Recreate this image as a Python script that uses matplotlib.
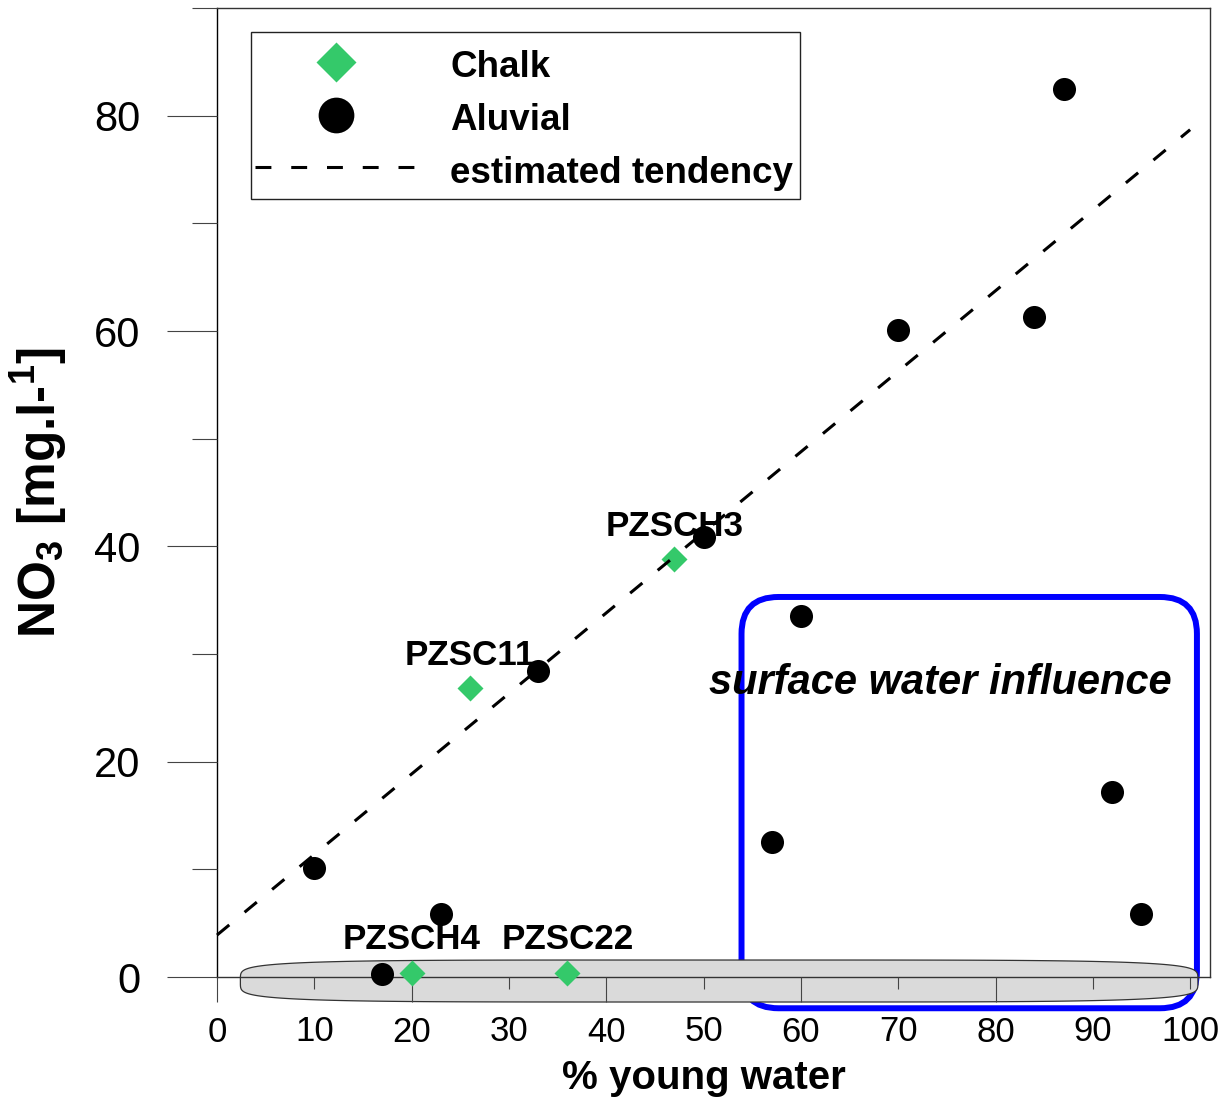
import numpy as np
import matplotlib
matplotlib.use("Agg")
import matplotlib.pyplot as plt
from matplotlib.patches import FancyBboxPatch, Polygon, Rectangle
from matplotlib.ticker import FixedLocator, FixedFormatter

plt.rcParams['font.family'] = ['Liberation Sans', 'DejaVu Sans']
plt.rcParams['mathtext.fontset'] = 'custom'
plt.rcParams['mathtext.rm'] = 'Liberation Sans:bold'
plt.rcParams['mathtext.it'] = 'Liberation Sans:bold'
plt.rcParams['mathtext.bf'] = 'Liberation Sans:bold'

# --- data ---
chalk_x = [20, 36, 26, 47]
chalk_y = [0.4, 0.4, 26.8, 38.8]
chalk_names = ['PZSCH4', 'PZSC22', 'PZSC11', 'PZSCH3']

aluvial_x = [10, 17, 23, 33, 50, 57, 60, 70, 84, 87, 92, 95]
aluvial_y = [10.1, 0.3, 5.9, 28.4, 40.9, 12.5, 33.5, 60.1, 61.3, 82.5, 17.2, 5.9]

trend_x = [0, 100]
trend_y = [3.9, 78.7]

x_major = [0, 20, 40, 60, 80]
x_minor = [10, 30, 50, 70, 90, 100]
y_major = [0, 20, 40, 60, 80]
y_minor = [10, 30, 50, 70, 90]

GREEN = '#34C96A'
TICK_C = '#444444'

fig = plt.figure(figsize=(12.31, 11.02), dpi=100)
ax = fig.add_axes([0.1763, 0.1134, 0.8063, 0.8793])
ax.set_xlim(0, 102)
ax.set_ylim(0, 90)
ax.set_axisbelow(False)

# shaded band along the zero line
cx, cy, a, b, n = 51.6, -0.37, 49.2, 1.95, 5
t = np.linspace(0, 2 * np.pi, 400)
ex = cx + a * np.sign(np.cos(t)) * np.abs(np.cos(t)) ** (2 / n)
ey = cy + b * np.sign(np.sin(t)) * np.abs(np.sin(t)) ** (2 / n)
band = Polygon(np.column_stack([ex, ey]), closed=True, facecolor='#DADADA',
               edgecolor='#333333', lw=0.9, zorder=2.0, clip_on=False)

# blue rounded box: surface water influence
box = FancyBboxPatch((53.9, -2.9), 46.8, 38.2,
                     boxstyle='round,pad=0,rounding_size=3.8',
                     mutation_aspect=0.9, facecolor='none', edgecolor='#0000FF',
                     lw=4.3, zorder=1.8, clip_on=False)
ax.add_patch(box)
ax.add_patch(band)

ax.text(74.3, 27.3, 'surface water influence', fontsize=30, fontweight='bold',
        fontstyle='italic', ha='center', va='center', zorder=4)

ax.plot(trend_x, trend_y, color='black', lw=2.2, ls=(0, (5.2, 6.5)),
        zorder=5, label='estimated tendency', clip_on=False)
ax.plot(chalk_x, chalk_y, 'D', color=GREEN, ms=13.2, mec='none',
        ls='none', zorder=3, label='Chalk', clip_on=False)
ax.plot(aluvial_x, aluvial_y, 'o', color='black', ms=16.6, mec='none',
        ls='none', zorder=3.5, label='Aluvial', clip_on=False)

for x, y, name in zip(chalk_x, chalk_y, chalk_names):
    ax.annotate(name, (x, y), xytext=(0, 17), textcoords='offset points',
                ha='center', va='baseline', fontsize=25.2, fontweight='bold',
                zorder=2.5, annotation_clip=False)

# axes frame
for side in ['top', 'right', 'left', 'bottom']:
    ax.spines[side].set_linewidth(1.0)
    ax.spines[side].set_color('#333333')
ax.spines['left'].set_color('black')

ax.xaxis.set_major_locator(FixedLocator(x_major))
ax.xaxis.set_minor_locator(FixedLocator(x_minor))
ax.xaxis.set_major_formatter(FixedFormatter([str(v) for v in x_major]))
ax.xaxis.set_minor_formatter(FixedFormatter([str(v) for v in x_minor]))
ax.yaxis.set_major_locator(FixedLocator(y_major))
ax.yaxis.set_minor_locator(FixedLocator(y_minor))
ax.yaxis.set_major_formatter(FixedFormatter([str(v) for v in y_major]))

ax.tick_params(axis='x', which='major', direction='out', length=18, width=0.8,
               color=TICK_C, pad=10, labelsize=25)
ax.tick_params(axis='x', which='minor', direction='out', length=8.6, width=0.8,
               color=TICK_C, pad=19, labelsize=25)
ax.tick_params(axis='y', which='major', direction='out', length=36, width=0.8,
               color=TICK_C, pad=19.4, labelsize=30)
ax.tick_params(axis='y', which='minor', direction='out', length=18, width=0.8,
               color=TICK_C)
for tk in ax.xaxis.get_major_ticks() + ax.xaxis.get_minor_ticks() + ax.yaxis.get_major_ticks() + ax.yaxis.get_minor_ticks():
    tk.tick1line.set_clip_on(False)

ax.set_xlabel('% young water', fontsize=29, fontweight='bold')
ax.xaxis.set_label_coords(50 / 102, -0.085)
ax.set_ylabel(r'NO$_3$ [mg.l-$^1$]', fontsize=37, fontweight='bold')
ax.yaxis.set_label_coords(-0.148, 0.5)

# legend: entries without frame, box drawn separately
handles, labels = ax.get_legend_handles_labels()
order = [labels.index('Chalk'), labels.index('Aluvial'), labels.index('estimated tendency')]
leg = ax.legend([handles[i] for i in order], [labels[i] for i in order],
                loc='upper left', bbox_to_anchor=(0.0383, 0.9608), borderaxespad=0,
                prop={'weight': 'bold', 'size': 26.5}, markerscale=1.55,
                handlelength=4.4, handleheight=1.2, handletextpad=0.9,
                labelspacing=0.37, borderpad=0, frameon=False)
leg.set_zorder(6)
ax.add_patch(Rectangle((0.0343, 0.8029), 0.5531, 0.1723, transform=ax.transAxes,
                       facecolor='white', edgecolor='#222222', lw=1.0, zorder=5.5))

fig.savefig('out.png', dpi=100)
